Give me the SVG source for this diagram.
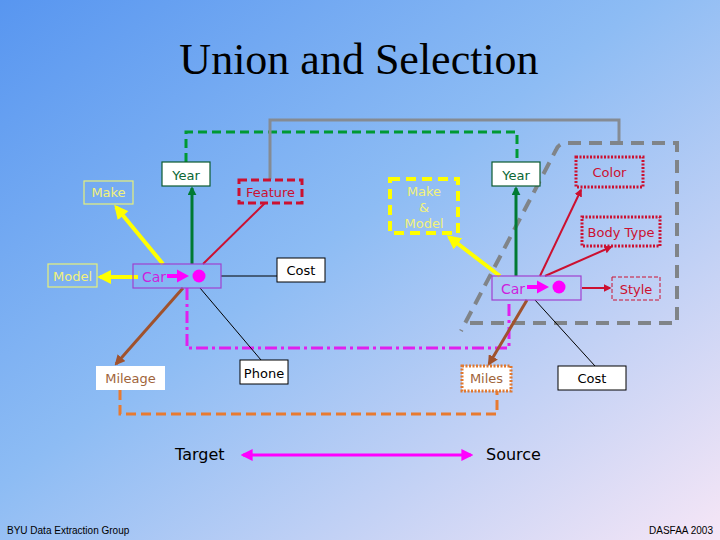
<svg xmlns="http://www.w3.org/2000/svg" xmlns:xlink="http://www.w3.org/1999/xlink" width="720" height="540" viewBox="0 0 720 540">
<style>
.t{font-family:"DejaVu Sans",Verdana,sans-serif;font-size:13px;text-anchor:middle}
.blk{fill:#000}
.wbox{fill:#fff;stroke:#000;stroke-width:1}
.ybox{fill:none;stroke:#e6f07a;stroke-width:1.2}
.ytxt{fill:#f2f27a}
.gbox{fill:#fff;stroke:#0a5a30;stroke-width:1.2}
.gtxt{fill:#0a6633}
.cbox{fill:none;stroke:#a040d0;stroke-width:1.2}
.ctxt{fill:#cc22dd;text-anchor:start;font-size:14px}
.rtxt{fill:#cc1030}
.btxt{fill:#a0643a}
.big{font-size:16px;text-anchor:start}
.c{fill:none}
</style>
<defs>
<linearGradient id="bg" x1="0" y1="0" x2="1" y2="1">
<stop offset="0" stop-color="#5896f0"/>
<stop offset="0.45" stop-color="#8dbcf4"/>
<stop offset="1" stop-color="#f6e6f6"/>
</linearGradient>
<marker id="ay" viewBox="0 0 10 10" refX="8" refY="5" markerWidth="3.5" markerHeight="3.5" orient="auto"><path d="M0,0 L10,5 L0,10 z" fill="#ffff00"/></marker>
<marker id="ag" viewBox="0 0 10 10" refX="8" refY="5" markerWidth="3" markerHeight="3" orient="auto"><path d="M0,0 L10,5 L0,10 z" fill="#007a33"/></marker>
<marker id="ar" viewBox="0 0 10 10" refX="8" refY="5" markerWidth="4" markerHeight="4" orient="auto"><path d="M0,0 L10,5 L0,10 z" fill="#cc1030"/></marker>
<marker id="ab" viewBox="0 0 10 10" refX="8" refY="5" markerWidth="3.5" markerHeight="3.5" orient="auto"><path d="M0,0 L10,5 L0,10 z" fill="#a0522d"/></marker>
<marker id="am" viewBox="0 0 10 10" refX="8" refY="5" markerWidth="4" markerHeight="4" orient="auto-start-reverse"><path d="M0,0 L10,5 L0,10 z" fill="#ff00ff"/></marker>
<g id="carIcon"><path d="M0,-2 L10,-2 L10,-6.5 L22,0 L10,6.5 L10,2 L0,2 z" fill="#ff00ff"/><circle cx="32" cy="0" r="6.5" fill="#ff00ff"/></g>
</defs>
<rect width="720" height="540" fill="url(#bg)"/>
<text x="359" y="74" font-family="'Liberation Serif','Times New Roman',serif" font-size="44" text-anchor="middle" fill="#000">Union and Selection</text>

<g id="connectors">
<path class="c" d="M186,162 V132 H517 V162" stroke="#009933" stroke-width="3" stroke-dasharray="9 5"/>
<path class="c" d="M270,179 V120 H619 V143" stroke="#858b93" stroke-width="3"/>
<path class="c" d="M470,323 H677 V143 H566 Q559,143 556,150 L461,331" stroke="#808488" stroke-width="4" stroke-dasharray="13 8"/>
<path class="c" d="M187,288 V348 H509 V300" stroke="#e020ee" stroke-width="3" stroke-dasharray="12 4 3 4"/>
<path class="c" d="M120,390 V414 H497 V391" stroke="#e87a30" stroke-width="3" stroke-dasharray="10 5"/>
<line x1="163" y1="264" x2="116" y2="207" stroke="#ffff00" stroke-width="4" marker-end="url(#ay)"/>
<line x1="138" y1="277" x2="100" y2="277" stroke="#ffff00" stroke-width="4" marker-end="url(#ay)"/>
<line x1="192" y1="264" x2="192" y2="188" stroke="#007a33" stroke-width="3" marker-end="url(#ag)"/>
<line x1="203" y1="264" x2="265" y2="203" stroke="#cc1030" stroke-width="2"/>
<line x1="221" y1="276" x2="277" y2="276" stroke="#000" stroke-width="1"/>
<line x1="200" y1="288" x2="261" y2="360" stroke="#000" stroke-width="1"/>
<line x1="183" y1="288" x2="116" y2="364" stroke="#a0522d" stroke-width="3" marker-end="url(#ab)"/>
<line x1="500" y1="276" x2="449" y2="237" stroke="#ffff00" stroke-width="4" marker-end="url(#ay)"/>
<line x1="516" y1="276" x2="516" y2="188" stroke="#007a33" stroke-width="3" marker-end="url(#ag)"/>
<line x1="540" y1="276" x2="581" y2="190" stroke="#cc1030" stroke-width="2" marker-end="url(#ar)"/>
<line x1="545" y1="276" x2="611" y2="247" stroke="#cc1030" stroke-width="2" marker-end="url(#ar)"/>
<line x1="582" y1="288" x2="610" y2="288" stroke="#cc1030" stroke-width="2" marker-end="url(#ar)"/>
<line x1="527" y1="300" x2="489" y2="364" stroke="#a0522d" stroke-width="3" marker-end="url(#ab)"/>
<line x1="535" y1="300" x2="595" y2="366" stroke="#000" stroke-width="1"/>
<line x1="243" y1="455" x2="471" y2="455" stroke="#ff00ff" stroke-width="3" marker-start="url(#am)" marker-end="url(#am)"/>
</g>

<g id="year-left"><rect class="gbox" x="162" y="162" width="48" height="24"/><text class="t gtxt" x="186" y="180">Year</text></g>
<g id="make"><rect class="ybox" x="84" y="181" width="49" height="23"/><text class="t ytxt" x="108.5" y="197">Make</text></g>
<g id="model"><rect class="ybox" x="48" y="264" width="49" height="23"/><text class="t ytxt" x="72.5" y="281">Model</text></g>
<g id="car-left"><rect class="cbox" x="133" y="264" width="88" height="24"/><text class="t ctxt" x="142" y="282">Car</text><use xlink:href="#carIcon" x="167" y="276"/></g>
<g id="feature"><rect x="239" y="180" width="63" height="23" fill="none" stroke="#cc1030" stroke-width="3" stroke-dasharray="8 4"/><text class="t rtxt" x="270.5" y="197">Feature</text></g>
<g id="cost-left"><rect class="wbox" x="277" y="258" width="48" height="24"/><text class="t blk" x="301" y="275">Cost</text></g>
<g id="make-model"><rect x="390" y="179" width="68" height="54" fill="none" stroke="#ffff00" stroke-width="4" stroke-dasharray="10 6"/><text class="t ytxt" x="424" y="196">Make</text><text class="t ytxt" x="424" y="212">&amp;</text><text class="t ytxt" x="424" y="228">Model</text></g>
<g id="year-right"><rect class="gbox" x="492" y="162" width="48" height="24"/><text class="t gtxt" x="516" y="180">Year</text></g>
<g id="color"><rect x="576" y="157" width="67" height="30" fill="none" stroke="#cc1030" stroke-width="3" stroke-dasharray="2 1.5"/><text class="t rtxt" x="609.5" y="177">Color</text></g>
<g id="body-type"><rect x="582" y="217" width="78" height="29" fill="none" stroke="#cc1030" stroke-width="3" stroke-dasharray="2 1.5"/><text class="t rtxt" x="621" y="237">Body Type</text></g>
<g id="car-right"><rect class="cbox" x="492" y="276" width="89" height="24"/><text class="t ctxt" x="501" y="294">Car</text><use xlink:href="#carIcon" x="527" y="287"/></g>
<g id="style"><rect x="612" y="277" width="48" height="23" fill="none" stroke="#cc1030" stroke-width="1" stroke-dasharray="4 2"/><text class="t rtxt" x="636" y="294">Style</text></g>
<g id="mileage"><rect x="96" y="366" width="69" height="24" fill="#fff"/><text class="t btxt" x="130.5" y="383">Mileage</text></g>
<g id="phone"><rect class="wbox" x="240" y="360" width="48" height="24"/><text class="t blk" x="264" y="378">Phone</text></g>
<g id="miles"><rect x="462" y="366" width="49" height="25" fill="#fff" stroke="#e07830" stroke-width="3" stroke-dasharray="2 1.5"/><text class="t btxt" x="486.5" y="383">Miles</text></g>
<g id="cost-right"><rect class="wbox" x="558" y="366" width="68" height="24"/><text class="t blk" x="592" y="383">Cost</text></g>
<g id="target"><text class="t blk big" x="175" y="460">Target</text></g>
<g id="source"><text class="t blk big" x="486" y="460">Source</text></g>
<text x="7" y="534" font-family="'Liberation Sans',Arial,sans-serif" font-size="10" fill="#000">BYU Data Extraction Group</text>
<text x="713" y="534" font-family="'Liberation Sans',Arial,sans-serif" font-size="10" fill="#000" text-anchor="end">DASFAA 2003</text>
</svg>
